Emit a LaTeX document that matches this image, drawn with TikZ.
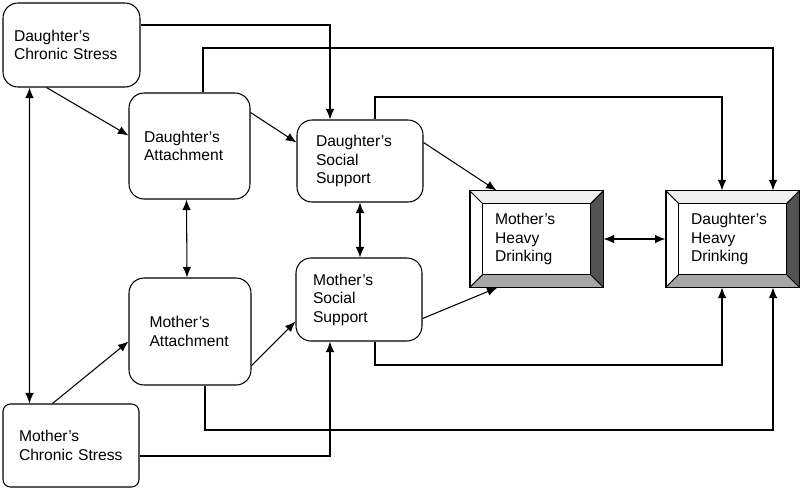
\documentclass[tikz,border=0pt]{standalone}
\usepackage{fontspec}
\setmainfont{Liberation Sans}
\usetikzlibrary{arrows.meta,calc}
\begin{document}
\begin{tikzpicture}[x=0.02cm,y=-0.02cm,line width=0.6pt,
  box/.style={draw,rounded corners=3mm,align=left,inner ysep=0pt,font=\fontsize{8.9}{10.5}\selectfont},
  arr/.style={-{Latex[length=2.1mm,width=1.7mm]}},
  arrs/.style={{Latex[length=2.1mm,width=1.7mm]}-{Latex[length=2.1mm,width=1.7mm]}}]
\useasboundingbox (0,0) rectangle (800,498);

\draw (71.5,45) node[box,minimum width=27.4mm,minimum height=16.8mm,inner xsep=2.2mm,text width=23mm] (dcs) {Daughter’s\\Chronic Stress};
\draw (189.5,146) node[box,minimum width=24.2mm,minimum height=21.2mm,inner xsep=3mm,text width=18.2mm] (da) {Daughter’s\\Attachment};
\draw (360,161) node[box,minimum width=25.2mm,minimum height=16.4mm,inner xsep=3.8mm,text width=17.6mm] (dss) {Daughter’s\\Social\\Support};
\draw (359,299.5) node[box,minimum width=25.2mm,minimum height=16.6mm,inner xsep=3.4mm,text width=18.4mm] (mss) {Mother’s\\Social\\Support};
\draw (190,331.5) node[box,minimum width=24.4mm,minimum height=21.4mm,inner xsep=4.1mm,text width=16.2mm] (ma) {Mother’s\\Attachment};
\draw (71,445.5) node[box,rounded corners=1.5mm,minimum width=27.2mm,minimum height=16.6mm,inner xsep=3.2mm,text width=20.8mm] (mcs) {Mother’s\\Chronic Stress};
\draw (536.5,239) node[box,sharp corners,minimum width=26.6mm,minimum height=19.2mm,inner xsep=5mm,text width=16.6mm] (mhd) {Mother’s\\Heavy\\Drinking};
\draw (732.5,239) node[box,sharp corners,minimum width=26.6mm,minimum height=19.2mm,inner xsep=5mm,text width=16.6mm] (dhd) {Daughter’s\\Heavy\\Drinking};

\foreach \n in {mhd,dhd} {
\fill[black!35] (\n.south west) -- (\n.south east) -- ($(\n.south east)+(-13,-13)$) -- ($(\n.south west)+(13,-13)$) -- cycle;
\fill[black!68] (\n.north east) -- (\n.south east) -- ($(\n.south east)+(-13,-13)$) -- ($(\n.north east)+(-13,13)$) -- cycle;
\fill[black!6] (\n.north west) -- (\n.north east) -- ($(\n.north east)+(-13,13)$) -- ($(\n.north west)+(13,13)$) -- cycle;
\draw[line width=0.8pt] (\n.north west) rectangle (\n.south east);
\draw ($(\n.north west)+(13,13)$) rectangle ($(\n.south east)+(-13,-13)$);
\draw (\n.north west) -- ++(13,13) (\n.north east) -- ++(-13,13) (\n.south west) -- ++(13,-13) (\n.south east) -- ++(-13,-13);
}

\coordinate (c1) at (330,25);
\coordinate (c2) at (203,48);
\coordinate (c3) at (773,48);
\coordinate (c4) at (375,97);
\coordinate (c5) at (722,97);
\coordinate (c6) at (375,365);
\coordinate (c7) at (722,365);
\coordinate (c8) at (205,430);
\coordinate (c9) at (773,430);
\coordinate (c10) at (330,456);

\draw[arr] (dcs.east |- c1) -| (c1 |- dss.north);
\draw[arr] (c2 |- da.north) -- (c2) -- (c3) -- (c3 |- dhd.north);
\draw[arr] (c4 |- dss.north) -- (c4) -- (c5) -- (c5 |- dhd.north);
\draw[arr] (c6 |- mss.south) -- (c6) -- (c7) -- (c7 |- dhd.south);
\draw[arr] (c8 |- ma.south) -- (c8) -- (c9) -- (c9 |- dhd.south);
\draw[arr] (mcs.east |- c10) -| (c10 |- mss.south);

\draw[arrs] ($(dcs.south west)+(27,0)$) -- ($(mcs.north west)+(27,0)$);
\draw[arr] ($(dcs.south west)+(44,0)$) -- ($(da.north west)+(0,43)$);
\draw[arr] ($(da.north east)+(0,20)$) -- ($(dss.north west)+(0,23)$);
\draw[arrs] ($(da.south)+(-3,0)$) -- ($(ma.north)+(-3,0)$);
\draw[arrs] (dss.south) -- (dss.south |- mss.north);
\draw[arr] ($(dss.north east)+(0,23)$) -- ($(mhd.north west)+(27,0)$);
\draw[arr] ($(mss.south east)+(0,-23)$) -- ($(mhd.south west)+(28,0)$);
\draw[arrs] (mhd.east) -- (dhd.west);
\draw[arr] ($(mcs.north west)+(50,0)$) -- ($(ma.north west)+(0,64)$);
\draw[arr] ($(ma.south east)+(0,-20)$) -- ($(mss.south west)+(0,-20)$);
\end{tikzpicture}
\end{document}
